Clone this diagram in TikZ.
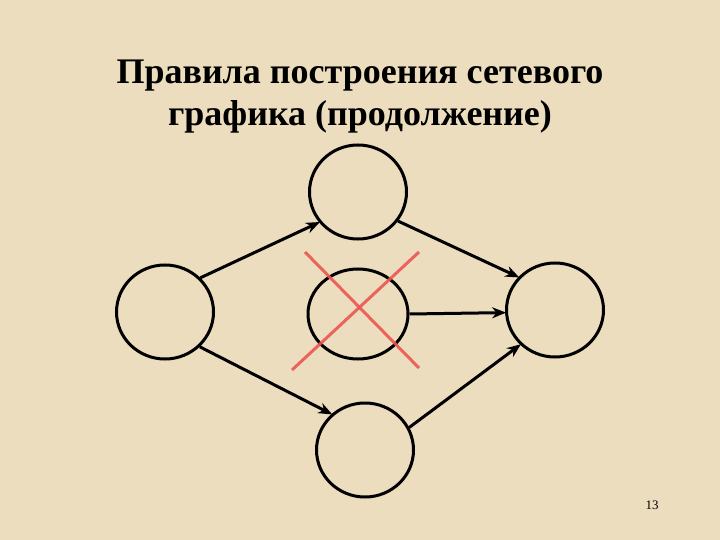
\documentclass[tikz,border=0pt]{standalone}
\usepackage{fontspec}
\setmainfont{Liberation Serif}
\usetikzlibrary{shapes.geometric,arrows.meta}
\definecolor{bgbeige}{RGB}{235,221,189}
\definecolor{crossred}{RGB}{236,86,82}
\tikzset{
  ev/.style={ellipse, draw=black, line width=3pt, inner sep=0pt, minimum width=97pt, minimum height=94pt},
  arr/.style={line width=3pt, -{Stealth[length=14pt,width=11pt]}, shorten >=-1pt},
  crossln/.style={crossred, line width=3pt, opacity=0.9},
  title/.style={font=\bfseries\fontsize{36}{42}\selectfont, align=center}
}
\begin{document}
\begin{tikzpicture}[x=1pt,y=-1pt]
  \fill[bgbeige] (0,0) rectangle (720,540);
  \useasboundingbox (0,0) rectangle (720,540);
  \node[title] (ttl) at (360,97) {Правила построения сетевого\\графика (продолжение)};
  \node[ev] (t) at (358,192) {};
  \node[ev] (l) at (165,312) {};
  \node[ev, minimum height=90pt, minimum width=100pt] (m) at (358,314) {};
  \node[ev] (r) at (555,310) {};
  \node[ev] (b) at (365,450) {};
  \draw[arr] (l.44) -- (t.218);
  \draw[arr] (t.324) -- (r.138);
  \draw[arr] (m.east) -- (r.183);
  \draw[arr] (l.315) -- (b.133);
  \draw[arr] (b.27) -- (r.225);
  \coordinate (c1) at (305,252);
  \coordinate (c2) at (419,368);
  \coordinate (c3) at (419,252);
  \coordinate (c4) at (292,370);
  \draw[crossln] (c1) -- (c2);
  \draw[crossln] (c3) -- (c4);
  \node[font=\fontsize{13}{15}\selectfont] (pg) at (652,505) {13};
\end{tikzpicture}
\end{document}
